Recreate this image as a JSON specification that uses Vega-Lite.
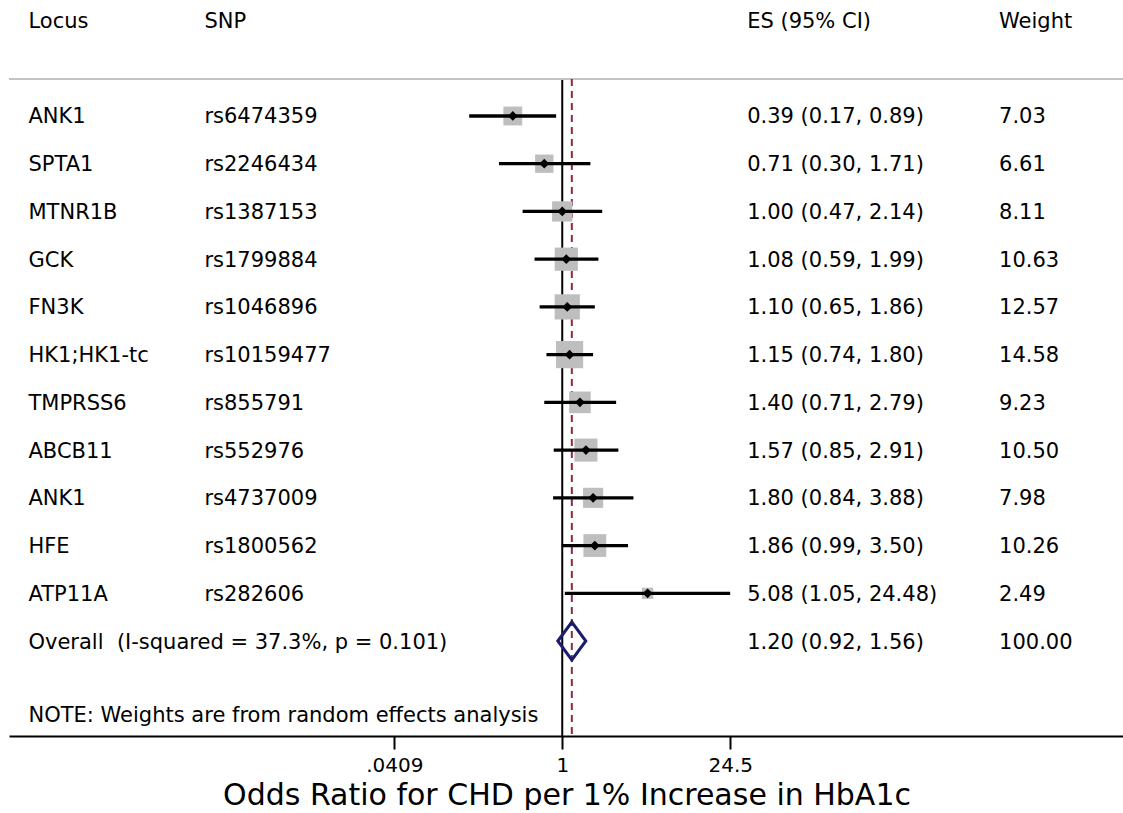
{
  "$schema": "https://vega.github.io/schema/vega-lite/v6.json",
  "width": 1115,
  "height": 736,
  "padding": {"left": 8, "top": 0, "right": 0, "bottom": 0},
  "background": "white",
  "config": {
    "view": {"stroke": null},
    "font": "DejaVu Sans",
    "text": {"font": "DejaVu Sans", "fontSize": 21, "color": "black", "dy": 1.5}
  },
  "data": {
    "values": [
      {"rank": 1, "kind": "study", "locus": "ANK1", "snp": "rs6474359", "es": 0.39, "lo": 0.17, "hi": 0.89, "weight": 7.03, "es_ci": "0.39 (0.17, 0.89)", "wt": "7.03"},
      {"rank": 2, "kind": "study", "locus": "SPTA1", "snp": "rs2246434", "es": 0.71, "lo": 0.30, "hi": 1.71, "weight": 6.61, "es_ci": "0.71 (0.30, 1.71)", "wt": "6.61"},
      {"rank": 3, "kind": "study", "locus": "MTNR1B", "snp": "rs1387153", "es": 1.00, "lo": 0.47, "hi": 2.14, "weight": 8.11, "es_ci": "1.00 (0.47, 2.14)", "wt": "8.11"},
      {"rank": 4, "kind": "study", "locus": "GCK", "snp": "rs1799884", "es": 1.08, "lo": 0.59, "hi": 1.99, "weight": 10.63, "es_ci": "1.08 (0.59, 1.99)", "wt": "10.63"},
      {"rank": 5, "kind": "study", "locus": "FN3K", "snp": "rs1046896", "es": 1.10, "lo": 0.65, "hi": 1.86, "weight": 12.57, "es_ci": "1.10 (0.65, 1.86)", "wt": "12.57"},
      {"rank": 6, "kind": "study", "locus": "HK1;HK1-tc", "snp": "rs10159477", "es": 1.15, "lo": 0.74, "hi": 1.80, "weight": 14.58, "es_ci": "1.15 (0.74, 1.80)", "wt": "14.58"},
      {"rank": 7, "kind": "study", "locus": "TMPRSS6", "snp": "rs855791", "es": 1.40, "lo": 0.71, "hi": 2.79, "weight": 9.23, "es_ci": "1.40 (0.71, 2.79)", "wt": "9.23"},
      {"rank": 8, "kind": "study", "locus": "ABCB11", "snp": "rs552976", "es": 1.57, "lo": 0.85, "hi": 2.91, "weight": 10.50, "es_ci": "1.57 (0.85, 2.91)", "wt": "10.50"},
      {"rank": 9, "kind": "study", "locus": "ANK1", "snp": "rs4737009", "es": 1.80, "lo": 0.84, "hi": 3.88, "weight": 7.98, "es_ci": "1.80 (0.84, 3.88)", "wt": "7.98"},
      {"rank": 10, "kind": "study", "locus": "HFE", "snp": "rs1800562", "es": 1.86, "lo": 0.99, "hi": 3.50, "weight": 10.26, "es_ci": "1.86 (0.99, 3.50)", "wt": "10.26"},
      {"rank": 11, "kind": "study", "locus": "ATP11A", "snp": "rs282606", "es": 5.08, "lo": 1.05, "hi": 24.48, "weight": 2.49, "es_ci": "5.08 (1.05, 24.48)", "wt": "2.49"},
      {"rank": 12, "kind": "overall", "locus": "Overall\u00a0 (I-squared = 37.3%, p = 0.101)", "snp": "", "es": 1.20, "lo": 0.92, "hi": 1.56, "weight": 100.0, "es_ci": "1.20 (0.92, 1.56)", "wt": "100.00"}
    ]
  },
  "layer": [
    {
      "transform": [{"filter": "datum.kind == 'overall'"}],
      "mark": {"type": "rule", "color": "black", "strokeWidth": 2},
      "encoding": {
        "x": {
          "datum": 1, "type": "quantitative",
          "scale": {"type": "log", "domain": [0.00002658, 44236], "nice": false, "zero": false},
          "axis": {
            "values": [0.0409, 1, 24.5],
            "labelExpr": "datum.value < 0.1 ? '.0409' : (datum.value > 10 ? '24.5' : '1')",
            "title": "Odds Ratio for CHD per 1% Increase in HbA1c",
            "grid": false,
            "domain": true, "domainColor": "black", "domainWidth": 2,
            "ticks": true, "tickColor": "black", "tickWidth": 2, "tickSize": 13,
            "labelFont": "DejaVu Sans", "labelFontSize": 20, "labelColor": "black", "labelPadding": 6,
            "labelFlush": false, "labelOverlap": false,
            "titleFont": "DejaVu Sans", "titleFontSize": 30, "titleFontWeight": "normal", "titleColor": "black", "titlePadding": 5
          }
        },
        "y": {"datum": 0.225, "type": "quantitative", "scale": {"domain": [-1.43, 13.99], "reverse": true, "nice": false, "zero": false}, "axis": null},
        "y2": {"datum": 13.99}
      }
    },
    {
      "transform": [{"filter": "datum.kind == 'overall'"}],
      "mark": {"type": "rule", "color": "#C4C4C4", "strokeWidth": 2},
      "encoding": {"y": {"datum": 0.225, "type": "quantitative"}}
    },
    {
      "transform": [{"filter": "datum.kind == 'overall'"}],
      "mark": {"type": "rule", "color": "#8E2B38", "strokeWidth": 2, "strokeDash": [7, 5]},
      "encoding": {
        "x": {"field": "es", "type": "quantitative"},
        "y": {"datum": 0.225, "type": "quantitative"},
        "y2": {"datum": 13.99}
      }
    },
    {
      "transform": [{"filter": "datum.kind == 'study'"}],
      "mark": {"type": "point", "shape": "square", "filled": true, "color": "#BEBEBE", "opacity": 1},
      "encoding": {
        "x": {"field": "es", "type": "quantitative"},
        "y": {"field": "rank", "type": "quantitative"},
        "size": {"field": "weight", "type": "quantitative", "scale": {"type": "linear", "domain": [0, 15], "range": [0, 760]}, "legend": null}
      }
    },
    {
      "transform": [{"filter": "datum.kind == 'study'"}],
      "mark": {"type": "rule", "color": "black", "strokeWidth": 3.3},
      "encoding": {
        "x": {"field": "lo", "type": "quantitative"},
        "x2": {"field": "hi"},
        "y": {"field": "rank", "type": "quantitative"}
      }
    },
    {
      "transform": [{"filter": "datum.kind == 'study'"}],
      "mark": {"type": "point", "shape": "diamond", "filled": true, "color": "black", "size": 95, "opacity": 1},
      "encoding": {
        "x": {"field": "es", "type": "quantitative"},
        "y": {"field": "rank", "type": "quantitative"}
      }
    },
    {
      "transform": [{"filter": "datum.kind == 'overall'"}],
      "mark": {"type": "point", "shape": "M -1 0 L 0 -1.35 L 1 0 L 0 1.35 Z", "filled": false, "stroke": "#1C1C6E", "strokeWidth": 3, "size": 784, "opacity": 1},
      "encoding": {
        "x": {"field": "es", "type": "quantitative"},
        "y": {"field": "rank", "type": "quantitative"}
      }
    },
    {
      "mark": {"type": "text", "align": "left", "baseline": "middle"},
      "encoding": {"x": {"datum": 0.00003852, "type": "quantitative"}, "y": {"field": "rank", "type": "quantitative"}, "text": {"field": "locus"}}
    },
    {
      "mark": {"type": "text", "align": "left", "baseline": "middle"},
      "encoding": {"x": {"datum": 0.001098, "type": "quantitative"}, "y": {"field": "rank", "type": "quantitative"}, "text": {"field": "snp"}}
    },
    {
      "mark": {"type": "text", "align": "left", "baseline": "middle"},
      "encoding": {"x": {"datum": 33.83, "type": "quantitative"}, "y": {"field": "rank", "type": "quantitative"}, "text": {"field": "es_ci"}}
    },
    {
      "mark": {"type": "text", "align": "left", "baseline": "middle"},
      "encoding": {"x": {"datum": 4098, "type": "quantitative"}, "y": {"field": "rank", "type": "quantitative"}, "text": {"field": "wt"}}
    },
    {
      "transform": [{"filter": "datum.kind == 'overall'"}],
      "mark": {"type": "text", "align": "left", "baseline": "middle"},
      "encoding": {"x": {"datum": 0.00003852, "type": "quantitative"}, "y": {"datum": -1, "type": "quantitative"}, "text": {"value": "Locus"}}
    },
    {
      "transform": [{"filter": "datum.kind == 'overall'"}],
      "mark": {"type": "text", "align": "left", "baseline": "middle"},
      "encoding": {"x": {"datum": 0.001098, "type": "quantitative"}, "y": {"datum": -1, "type": "quantitative"}, "text": {"value": "SNP"}}
    },
    {
      "transform": [{"filter": "datum.kind == 'overall'"}],
      "mark": {"type": "text", "align": "left", "baseline": "middle"},
      "encoding": {"x": {"datum": 33.83, "type": "quantitative"}, "y": {"datum": -1, "type": "quantitative"}, "text": {"value": "ES (95% CI)"}}
    },
    {
      "transform": [{"filter": "datum.kind == 'overall'"}],
      "mark": {"type": "text", "align": "left", "baseline": "middle"},
      "encoding": {"x": {"datum": 4098, "type": "quantitative"}, "y": {"datum": -1, "type": "quantitative"}, "text": {"value": "Weight"}}
    },
    {
      "transform": [{"filter": "datum.kind == 'overall'"}],
      "mark": {"type": "text", "align": "left", "baseline": "middle"},
      "encoding": {"x": {"datum": 0.00003852, "type": "quantitative"}, "y": {"datum": 13.55, "type": "quantitative"}, "text": {"value": "NOTE: Weights are from random effects analysis"}}
    }
  ]
}
